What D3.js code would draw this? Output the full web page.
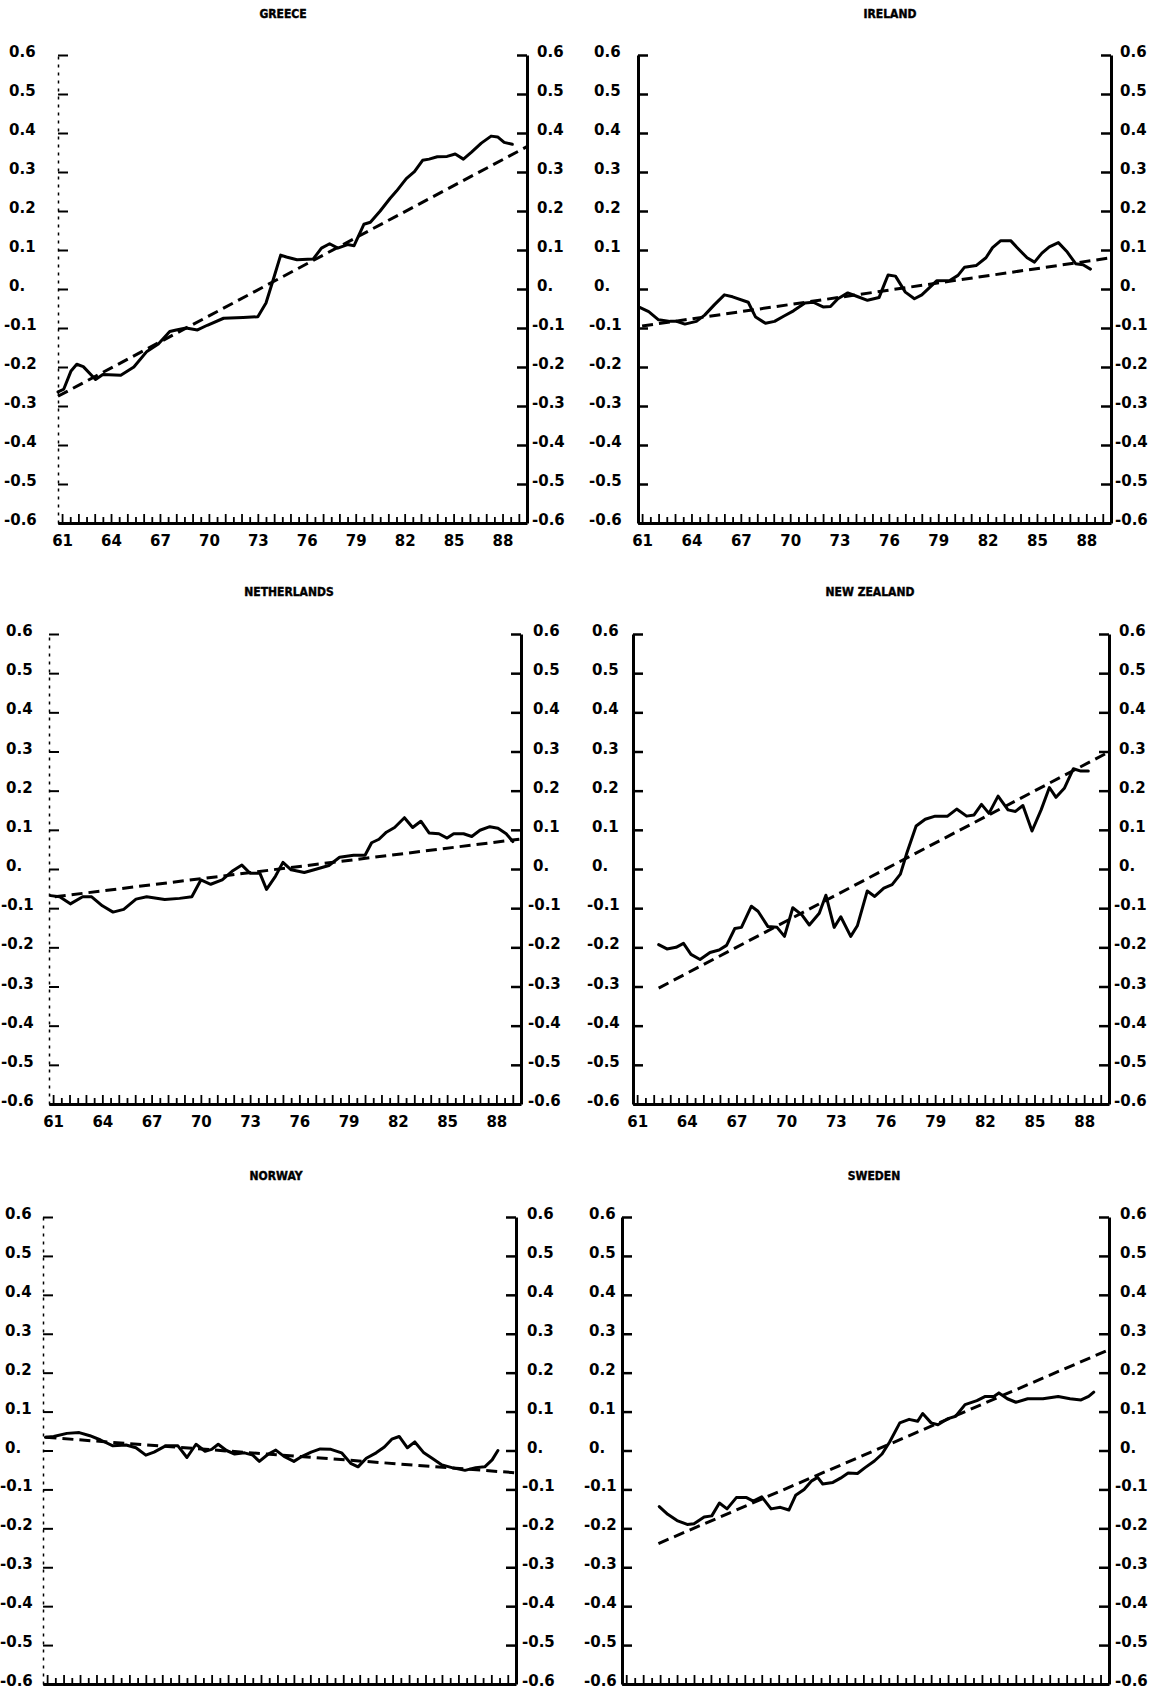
<!DOCTYPE html>
<html>
<head>
<meta charset="utf-8">
<script src="https://cdn.jsdelivr.net/npm/d3@7/dist/d3.min.js"></script>
<style>
  html, body { margin: 0; padding: 0; background: #fff; }
  svg { display: block; }
  .tick text { font-family: "DejaVu Sans", sans-serif; font-weight: bold; font-size: 15px; fill: #000; }
  .title { font-family: "DejaVu Sans Condensed", "DejaVu Sans", sans-serif; font-weight: bold; font-size: 12px; fill: #000; stroke: #000; stroke-width: 0.4px; }
</style>
</head>
<body>
<svg id="chart" width="1165" height="1689"></svg>
<script>
// ---------- shared axis data ----------
const yTickValues = [0.6, 0.5, 0.4, 0.3, 0.2, 0.1, 0, -0.1, -0.2, -0.3, -0.4, -0.5, -0.6];
const yTickLabels = ["0.6", "0.5", "0.4", "0.3", "0.2", "0.1", "0.", "-0.1", "-0.2", "-0.3", "-0.4", "-0.5", "-0.6"];
const xLabelYears = [1961, 1964, 1967, 1970, 1973, 1976, 1979, 1982, 1985, 1988];
const xLabelTexts = ["61", "64", "67", "70", "73", "76", "79", "82", "85", "88"];
const yearDomain = [1960.75, 1989.5];

// ---------- GREECE ----------
const greeceYears = [1960.75, 1961.1, 1961.55, 1961.9, 1962.3, 1963.05, 1963.5, 1964.6, 1965.4, 1966.2, 1966.9, 1967.6, 1968.0, 1968.6, 1969.3, 1969.9, 1970.9, 1972.1, 1973.0, 1973.5, 1973.9, 1974.4, 1974.75, 1975.4, 1976.4, 1976.9, 1977.4, 1977.9, 1978.5, 1978.9, 1979.5, 1979.9, 1980.5, 1981.1, 1981.5, 1982.1, 1982.6, 1983.1, 1983.5, 1984.0, 1984.6, 1985.1, 1985.6, 1986.1, 1986.7, 1987.3, 1987.7, 1988.1, 1988.6];
const greeceValues = [-0.264, -0.257, -0.21, -0.193, -0.199, -0.232, -0.219, -0.221, -0.2, -0.16, -0.141, -0.109, -0.105, -0.1, -0.105, -0.093, -0.075, -0.073, -0.071, -0.036, 0.018, 0.087, 0.082, 0.075, 0.077, 0.105, 0.116, 0.105, 0.114, 0.111, 0.166, 0.171, 0.2, 0.232, 0.251, 0.283, 0.301, 0.33, 0.333, 0.339, 0.34, 0.346, 0.333, 0.351, 0.374, 0.392, 0.39, 0.376, 0.371];
const greeceTrendYears = [1960.75, 1989.5];
const greeceTrendValues = [-0.275, 0.365];

// ---------- IRELAND ----------
const irelandYears = [1960.85, 1961.4, 1962.0, 1962.7, 1963.1, 1963.6, 1964.3, 1964.8, 1965.4, 1966.0, 1966.5, 1967.45, 1967.9, 1968.5, 1969.05, 1969.6, 1970.2, 1970.9, 1971.4, 1972.0, 1972.45, 1972.9, 1973.5, 1974.0, 1974.7, 1975.4, 1975.75, 1975.95, 1976.4, 1977.0, 1977.55, 1978.0, 1978.5, 1978.9, 1979.7, 1980.2, 1980.6, 1981.3, 1981.9, 1982.3, 1982.8, 1983.4, 1983.8, 1984.4, 1984.85, 1985.3, 1985.75, 1986.3, 1986.8, 1987.35, 1987.8, 1988.25];
const irelandValues = [-0.047, -0.058, -0.079, -0.083, -0.083, -0.09, -0.083, -0.067, -0.04, -0.015, -0.02, -0.034, -0.072, -0.088, -0.083, -0.07, -0.056, -0.036, -0.034, -0.046, -0.045, -0.025, -0.01, -0.018, -0.029, -0.022, 0.015, 0.036, 0.033, -0.008, -0.025, -0.015, 0.005, 0.021, 0.022, 0.035, 0.056, 0.06, 0.08, 0.106, 0.124, 0.124, 0.106, 0.08, 0.069, 0.092, 0.108, 0.119, 0.097, 0.065, 0.062, 0.051];
const irelandTrendYears = [1961.0, 1989.5];
const irelandTrendValues = [-0.095, 0.08];

// ---------- NETHERLANDS ----------
const netherlandsYears = [1960.85, 1961.4, 1962.05, 1962.8, 1963.35, 1964.0, 1964.65, 1965.3, 1966.05, 1966.7, 1967.8, 1968.7, 1969.45, 1970.0, 1970.6, 1971.3, 1971.9, 1972.5, 1973.0, 1973.6, 1974.0, 1974.55, 1975.0, 1975.5, 1976.3, 1976.9, 1977.8, 1978.45, 1979.3, 1980.0, 1980.4, 1980.85, 1981.3, 1981.8, 1982.4, 1982.9, 1983.4, 1983.9, 1984.5, 1985.0, 1985.4, 1986.0, 1986.5, 1987.0, 1987.6, 1988.1, 1988.6, 1989.0];
const netherlandsValues = [-0.068, -0.071, -0.089, -0.071, -0.071, -0.094, -0.11, -0.103, -0.077, -0.071, -0.078, -0.075, -0.071, -0.028, -0.039, -0.028, -0.006, 0.01, -0.011, -0.011, -0.052, -0.018, 0.017, -0.002, -0.009, -0.002, 0.009, 0.03, 0.035, 0.035, 0.067, 0.076, 0.094, 0.106, 0.131, 0.106, 0.122, 0.092, 0.09, 0.079, 0.09, 0.09, 0.083, 0.099, 0.108, 0.104, 0.09, 0.07];
const netherlandsTrendYears = [1961.1, 1989.4];
const netherlandsTrendValues = [-0.071, 0.076];

// ---------- NEW ZEALAND ----------
const newZealandYears = [1962.3, 1962.8, 1963.35, 1963.8, 1964.25, 1964.8, 1965.4, 1965.95, 1966.4, 1966.9, 1967.3, 1967.9, 1968.3, 1968.9, 1969.45, 1969.9, 1970.4, 1970.95, 1971.4, 1972.0, 1972.4, 1972.9, 1973.3, 1973.9, 1974.3, 1974.9, 1975.35, 1975.9, 1976.4, 1976.9, 1977.3, 1977.85, 1978.4, 1979.0, 1979.75, 1980.3, 1980.9, 1981.35, 1981.8, 1982.25, 1982.8, 1983.4, 1983.85, 1984.3, 1984.85, 1985.4, 1985.9, 1986.3, 1986.8, 1987.35, 1987.8, 1988.25];
const newZealandValues = [-0.193, -0.204, -0.2, -0.19, -0.218, -0.231, -0.213, -0.207, -0.195, -0.152, -0.149, -0.095, -0.108, -0.147, -0.149, -0.172, -0.099, -0.117, -0.143, -0.113, -0.067, -0.149, -0.122, -0.172, -0.145, -0.056, -0.07, -0.049, -0.04, -0.013, 0.042, 0.11, 0.127, 0.135, 0.135, 0.153, 0.135, 0.138, 0.165, 0.142, 0.186, 0.151, 0.147, 0.162, 0.097, 0.151, 0.208, 0.183, 0.206, 0.256, 0.25, 0.25];
const newZealandTrendYears = [1962.3, 1989.5];
const newZealandTrendValues = [-0.304, 0.299];

// ---------- NORWAY ----------
const norwayYears = [1960.9, 1961.4, 1962.2, 1962.95, 1963.6, 1964.25, 1965.0, 1965.8, 1966.4, 1967.0, 1967.5, 1968.2, 1968.95, 1969.5, 1970.05, 1970.6, 1971.0, 1971.4, 1971.9, 1972.4, 1973.0, 1973.5, 1973.9, 1974.45, 1974.9, 1975.4, 1976.0, 1976.5, 1977.05, 1977.6, 1978.25, 1978.9, 1979.45, 1979.9, 1980.4, 1981.0, 1981.5, 1981.95, 1982.4, 1982.9, 1983.35, 1983.9, 1984.4, 1985.0, 1985.6, 1986.4, 1987.05, 1987.6, 1988.05, 1988.4];
const norwayValues = [0.034, 0.036, 0.044, 0.046, 0.038, 0.027, 0.012, 0.014, 0.007, -0.012, -0.004, 0.012, 0.012, -0.018, 0.016, -0.002, 0.003, 0.016, 0.0, -0.009, -0.006, -0.012, -0.028, -0.009, 0.001, -0.015, -0.028, -0.015, -0.004, 0.004, 0.003, -0.006, -0.033, -0.042, -0.02, -0.006, 0.009, 0.029, 0.036, 0.007, 0.022, -0.006, -0.02, -0.037, -0.044, -0.051, -0.044, -0.042, -0.024, 0.0];
const norwayTrendYears = [1960.9, 1989.4];
const norwayTrendValues = [0.034, -0.057];

// ---------- SWEDEN ----------
const swedenYears = [1962.95, 1963.45, 1964.0, 1964.6, 1965.0, 1965.6, 1966.05, 1966.5, 1966.95, 1967.5, 1968.1, 1968.5, 1969.0, 1969.55, 1970.1, 1970.6, 1971.0, 1971.5, 1971.95, 1972.3, 1972.6, 1973.2, 1973.65, 1974.1, 1974.65, 1975.1, 1975.65, 1976.1, 1976.55, 1977.15, 1977.7, 1978.2, 1978.5, 1979.0, 1979.4, 1980.0, 1980.45, 1981.0, 1981.7, 1982.2, 1982.7, 1983.0, 1983.5, 1984.0, 1984.7, 1985.6, 1986.5, 1987.2, 1987.85, 1988.3, 1988.6];
const swedenValues = [-0.144, -0.164, -0.18, -0.19, -0.188, -0.171, -0.168, -0.135, -0.15, -0.121, -0.121, -0.13, -0.119, -0.15, -0.146, -0.153, -0.115, -0.1, -0.078, -0.069, -0.086, -0.082, -0.071, -0.058, -0.059, -0.044, -0.027, -0.009, 0.022, 0.071, 0.08, 0.075, 0.095, 0.071, 0.066, 0.082, 0.088, 0.118, 0.128, 0.139, 0.139, 0.148, 0.133, 0.124, 0.133, 0.133, 0.139, 0.133, 0.13, 0.139, 0.15];
const swedenTrendYears = [1962.9, 1989.5];
const swedenTrendValues = [-0.239, 0.259];

// ---------- layout (positions / styles only) ----------
// lx: x where left-axis labels start, rx: x where right-axis labels start
const panels = [
  { title: "GREECE", years: greeceYears, values: greeceValues, tYears: greeceTrendYears, tValues: greeceTrendValues,
    l: 58, r: 527, t: 55, b: 523, titleX: 283, titleY: 18, faintLeft: true, xLabels: true, lx: 9, rx: 537 },
  { title: "IRELAND", years: irelandYears, values: irelandValues, tYears: irelandTrendYears, tValues: irelandTrendValues,
    l: 638, r: 1111, t: 55, b: 523, titleX: 890, titleY: 18, faintLeft: false, xLabels: true, lx: 594, rx: 1120 },
  { title: "NETHERLANDS", years: netherlandsYears, values: netherlandsValues, tYears: netherlandsTrendYears, tValues: netherlandsTrendValues,
    l: 49, r: 521, t: 634, b: 1104, titleX: 289, titleY: 596, faintLeft: true, xLabels: true, lx: 6, rx: 533 },
  { title: "NEW ZEALAND", years: newZealandYears, values: newZealandValues, tYears: newZealandTrendYears, tValues: newZealandTrendValues,
    l: 633, r: 1109, t: 634, b: 1104, titleX: 870, titleY: 596, faintLeft: false, xLabels: true, lx: 592, rx: 1119 },
  { title: "NORWAY", years: norwayYears, values: norwayValues, tYears: norwayTrendYears, tValues: norwayTrendValues,
    l: 43, r: 516, t: 1217, b: 1684, titleX: 276, titleY: 1180, faintLeft: true, xLabels: false, lx: 5, rx: 527 },
  { title: "SWEDEN", years: swedenYears, values: swedenValues, tYears: swedenTrendYears, tValues: swedenTrendValues,
    l: 622, r: 1109, t: 1217, b: 1684, titleX: 874, titleY: 1180, faintLeft: false, xLabels: false, lx: 589, rx: 1120 }
];

const svg = d3.select("#chart");
const yearTicks = d3.range(1961, 1990, 1);
const halfTicks = d3.range(1961.5, 1989.5, 1);
const negShift = 5;

panels.forEach(p => {
  const x = d3.scaleLinear().domain(yearDomain).range([p.l, p.r]);
  const y = d3.scaleLinear().domain([-0.6, 0.6]).range([p.b, p.t]);
  const g = svg.append("g");

  g.append("text").attr("class", "title")
    .attr("x", p.titleX).attr("y", p.titleY)
    .attr("text-anchor", "middle").text(p.title);

  // left axis
  const left = g.append("g").attr("transform", `translate(${p.l},0)`)
    .call(d3.axisLeft(y).tickValues(yTickValues)
      .tickFormat((d, i) => yTickLabels[i]).tickSize(-10).tickSizeOuter(0));
  left.select(".domain")
    .attr("stroke", "#000")
    .attr("stroke-width", p.faintLeft ? 1.5 : 3)
    .attr("stroke-dasharray", p.faintLeft ? "3,5" : null);
  left.selectAll(".tick line").attr("stroke", "#000").attr("stroke-width", p.faintLeft ? 2 : 2.5);
  left.selectAll(".tick text")
    .attr("text-anchor", "start")
    .attr("x", d => (p.lx - p.l) - (d < 0 ? negShift : 0))
    .attr("dy", "0.1em");

  // right axis
  const right = g.append("g").attr("transform", `translate(${p.r},0)`)
    .call(d3.axisRight(y).tickValues(yTickValues)
      .tickFormat((d, i) => yTickLabels[i]).tickSize(-10).tickSizeOuter(0));
  right.select(".domain").attr("stroke", "#000").attr("stroke-width", 3);
  right.selectAll(".tick line").attr("stroke", "#000").attr("stroke-width", 2.5);
  right.selectAll(".tick text")
    .attr("text-anchor", "start")
    .attr("x", d => (p.rx - p.r) - (d < 0 ? negShift : 0))
    .attr("dy", "0.1em");

  // bottom axis: yearly ticks with labels
  const bottom = g.append("g").attr("transform", `translate(0,${p.b})`)
    .call(d3.axisBottom(x).tickValues(yearTicks)
      .tickFormat(d => {
        const k = xLabelYears.indexOf(d);
        return (p.xLabels && k >= 0) ? xLabelTexts[k] : "";
      }).tickSize(-9).tickSizeOuter(0).tickPadding(9));
  bottom.select(".domain").attr("stroke", "#000").attr("stroke-width", 3);
  bottom.selectAll(".tick line").attr("stroke", "#000").attr("stroke-width", 1.8);
  bottom.selectAll(".tick text").attr("dy", "0.95em");

  const bottomHalf = g.append("g").attr("transform", `translate(0,${p.b})`)
    .call(d3.axisBottom(x).tickValues(halfTicks).tickFormat("").tickSize(-6).tickSizeOuter(0));
  bottomHalf.select(".domain").remove();
  bottomHalf.selectAll(".tick line").attr("stroke", "#000").attr("stroke-width", 1.8);

  // trend line (dashed)
  const trend = p.tYears.map((yr, i) => [yr, p.tValues[i]]);
  g.append("path").datum(trend)
    .attr("fill", "none").attr("stroke", "#000").attr("stroke-width", 3)
    .attr("stroke-dasharray", "11,6")
    .attr("d", d3.line().x(d => x(d[0])).y(d => y(d[1])));

  // actual series (solid)
  const series = p.years.map((yr, i) => [yr, p.values[i]]);
  g.append("path").datum(series)
    .attr("fill", "none").attr("stroke", "#000").attr("stroke-width", 3)
    .attr("stroke-linejoin", "round").attr("stroke-linecap", "round")
    .attr("d", d3.line().x(d => x(d[0])).y(d => y(d[1])));
});
</script>
</body>
</html>
